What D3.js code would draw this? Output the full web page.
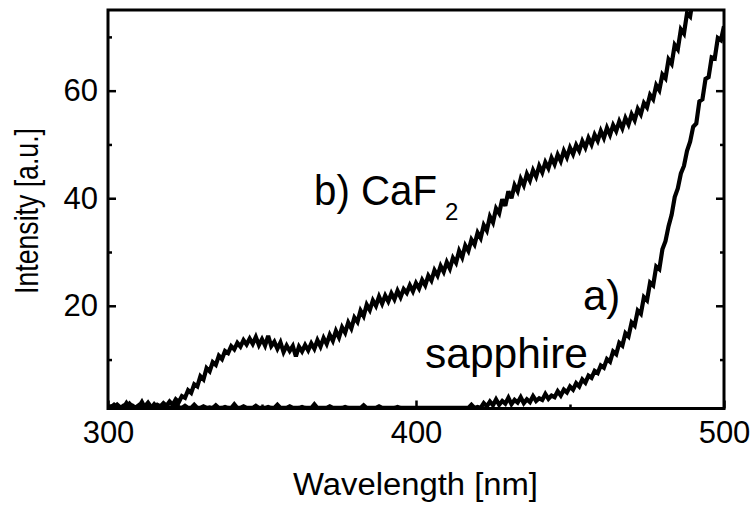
<!DOCTYPE html>
<html>
<head>
<meta charset="utf-8">
<script src="https://cdn.jsdelivr.net/npm/d3@7"></script>
<style>
  html, body { margin: 0; padding: 0; background: #fff; }
  svg { display: block; font-family: "Liberation Sans", Arial, Helvetica, sans-serif; }
</style>
</head>
<body>
<svg id="chart" width="754" height="505"></svg>
<script>
// ---- data ----
const startWavelength = 300;           // nm, 1 nm sampling
const xTickMajor = [300, 400, 500];
const xTickMinor = [350, 450];
const yTickMajor = [20, 40, 60];
const yTickMinor = [10, 30, 50, 70];
const xDomain = [300, 500];
const yDomain = [0.9, 75];

// b) CaF2, 300..490 nm
const caf2 = [
  1.3,1.1,1.6,1.2,1.0,1.4,1.1,1.8,1.2,1.1,
  1.5,1.0,1.3,2.0,1.2,1.1,1.6,1.3,1.9,1.4,
  2.2,1.6,2.6,2.1,3.2,2.9,4.3,3.8,5.4,5.0,
  6.9,6.3,8.4,7.8,9.5,9.0,10.7,10.1,11.6,11.2,
  12.5,11.9,13.1,12.4,13.6,12.8,13.9,12.9,14.2,12.7,
  13.8,12.6,14.4,12.5,13.3,12.0,13.2,11.4,12.6,11.6,
  12.5,10.6,12.4,11.5,12.7,11.7,13.0,12.0,13.6,12.4,
  14.0,12.9,14.6,13.5,15.3,14.1,16.0,15.0,16.9,15.8,
  17.8,17.0,19.1,18.1,20.2,19.2,21.0,20.0,21.7,20.4,
  21.9,20.8,22.3,21.2,22.8,21.6,23.1,22.4,23.8,22.7,
  24.2,23.2,24.8,23.8,25.6,24.7,26.6,25.6,27.4,26.3,
  28.1,26.9,28.9,28.0,30.2,29.0,31.2,30.2,32.3,31.4,
  33.6,32.6,35.0,34.0,36.6,35.5,38.1,37.2,39.8,38.6,
  41.3,40.0,42.4,41.3,43.6,42.4,44.5,43.3,45.2,44.0,
  46.0,44.8,46.7,45.6,47.5,46.3,48.1,46.9,48.8,47.6,
  49.4,48.2,49.9,48.8,50.6,49.4,51.2,50.0,51.8,50.7,
  52.5,51.2,53.1,51.8,53.6,52.5,54.3,53.0,54.9,53.7,
  55.6,54.5,56.6,55.6,57.7,56.9,59.2,58.4,61.0,60.1,
  63.0,62.3,65.8,65.0,68.5,67.7,71.4,70.6,74.4,73.8,
  77.5
];

// a) sapphire, 300..500 nm
const sapphire = [
  1.0,1.3,1.0,1.6,1.1,1.0,1.9,1.1,1.4,1.0,
  1.2,2.1,1.0,1.3,1.0,1.7,1.1,1.0,1.5,1.0,
  1.1,1.0,1.8,1.1,1.0,1.4,1.0,1.0,1.6,1.0,
  1.0,1.3,1.0,1.1,1.0,1.5,1.0,1.0,1.2,1.0,
  1.0,1.7,1.0,1.0,1.3,1.0,1.0,1.0,1.4,1.0,
  1.0,1.0,1.2,1.0,1.0,1.6,1.0,1.0,1.0,1.3,
  1.0,1.0,1.0,1.2,1.0,1.0,1.0,1.7,1.0,1.0,
  1.0,1.0,1.3,1.0,1.0,1.0,1.0,1.2,1.0,1.0,
  1.0,1.0,1.0,1.5,1.0,1.0,1.0,1.0,1.3,1.0,
  1.0,1.0,1.0,1.0,1.2,1.0,1.0,1.0,1.0,1.0,
  1.0,1.0,1.0,1.0,1.0,1.0,1.0,1.0,1.0,1.0,
  1.0,1.0,1.0,1.0,1.0,1.0,1.0,1.0,1.6,1.0,
  1.2,1.0,1.9,1.3,2.2,1.5,2.6,1.6,2.3,1.8,
  2.9,1.7,2.5,2.0,3.0,1.9,2.6,2.1,3.2,2.3,
  2.8,2.5,3.6,2.7,3.3,3.0,4.1,3.3,4.4,3.9,
  5.0,4.4,5.6,5.0,6.3,5.7,7.0,6.6,7.9,7.5,
  8.9,8.5,10.1,9.6,11.5,11.0,13.1,12.6,14.9,14.3,
  16.9,16.3,19.1,18.5,21.6,21.0,24.3,23.8,27.3,26.8,
  30.5,32.0,34.8,36.9,40.2,41.8,44.6,46.0,48.8,50.5,
  53.3,53.9,58.0,58.4,62.2,62.5,66.2,66.0,69.8,69.4,
  72.0
];

// ---- drawing ----
const svg = d3.select("#chart");
const x = d3.scaleLinear().domain(xDomain).range([108, 724]);
const y = d3.scaleLinear().domain(yDomain).range([408.5, 10]);

svg.append("defs").append("clipPath").attr("id", "plotclip")
  .append("rect")
  .attr("x", x(xDomain[0])).attr("y", y(yDomain[1]))
  .attr("width", x(xDomain[1]) - x(xDomain[0]))
  .attr("height", y(yDomain[0]) - y(yDomain[1]));

const line = d3.line()
  .x((d, i) => x(startWavelength + i))
  .y(d => y(d));

const curves = svg.append("g").attr("clip-path", "url(#plotclip)");
[sapphire, caf2].forEach(series => {
  curves.append("path")
    .datum(series)
    .attr("d", line)
    .attr("fill", "none")
    .attr("stroke", "#000")
    .attr("stroke-width", 4.2)
    .attr("stroke-linejoin", "miter")
    .attr("stroke-miterlimit", 3);
});

// axes
const tickFont = 31;
function styleAxis(g) {
  g.select(".domain").remove();
  g.selectAll(".tick line").attr("stroke", "#000").attr("stroke-width", 2.5);
  g.selectAll(".tick text").attr("fill", "#000").style("font-size", tickFont + "px");
}

svg.append("g")
  .attr("transform", `translate(${x(xDomain[0])},0)`)
  .call(d3.axisLeft(y).tickValues(yTickMajor).tickSize(-8).tickPadding(10).tickFormat(d3.format("d")))
  .call(styleAxis);
svg.append("g")
  .attr("transform", `translate(${x(xDomain[0])},0)`)
  .call(d3.axisLeft(y).tickValues(yTickMinor).tickSize(-4).tickFormat(""))
  .call(styleAxis);
svg.append("g")
  .attr("transform", `translate(${x(xDomain[1])},0)`)
  .call(d3.axisRight(y).tickValues(yTickMajor).tickSize(-8).tickFormat(""))
  .call(styleAxis);
svg.append("g")
  .attr("transform", `translate(${x(xDomain[1])},0)`)
  .call(d3.axisRight(y).tickValues(yTickMinor).tickSize(-4).tickFormat(""))
  .call(styleAxis);
svg.append("g")
  .attr("transform", `translate(0,${y(yDomain[0])})`)
  .call(d3.axisBottom(x).tickValues(xTickMajor).tickSize(-8).tickPadding(12).tickFormat(d3.format("d")))
  .call(styleAxis);
svg.append("g")
  .attr("transform", `translate(0,${y(yDomain[0])})`)
  .call(d3.axisBottom(x).tickValues(xTickMinor).tickSize(-4).tickFormat(""))
  .call(styleAxis);

// frame
svg.append("rect")
  .attr("x", x(xDomain[0])).attr("y", y(yDomain[1]))
  .attr("width", x(xDomain[1]) - x(xDomain[0]))
  .attr("height", y(yDomain[0]) - y(yDomain[1]))
  .attr("fill", "none").attr("stroke", "#000").attr("stroke-width", 3);

// axis titles
svg.append("text")
  .attr("x", 293).attr("y", 495)
  .attr("textLength", 245).attr("lengthAdjust", "spacingAndGlyphs")
  .style("font-size", "31px").attr("fill", "#000")
  .text("Wavelength [nm]");

svg.append("text")
  .attr("transform", "translate(38,294) rotate(-90)")
  .attr("textLength", 166).attr("lengthAdjust", "spacingAndGlyphs")
  .style("font-size", "33px").attr("fill", "#000")
  .text("Intensity [a.u.]");

// annotations
const bLabel = svg.append("text").attr("x", 314).attr("y", 205)
  .style("font-size", "42px").attr("fill", "#000");
bLabel.append("tspan").attr("textLength", 123).attr("lengthAdjust", "spacingAndGlyphs").text("b) CaF");
bLabel.append("tspan").attr("x", 445).attr("y", 220).style("font-size", "24px").text("2");

svg.append("text").attr("x", 583).attr("y", 310)
  .style("font-size", "42px").attr("fill", "#000").text("a)");
svg.append("text").attr("x", 425).attr("y", 368)
  .attr("textLength", 163).attr("lengthAdjust", "spacingAndGlyphs")
  .style("font-size", "42px").attr("fill", "#000").text("sapphire");
</script>
</body>
</html>
